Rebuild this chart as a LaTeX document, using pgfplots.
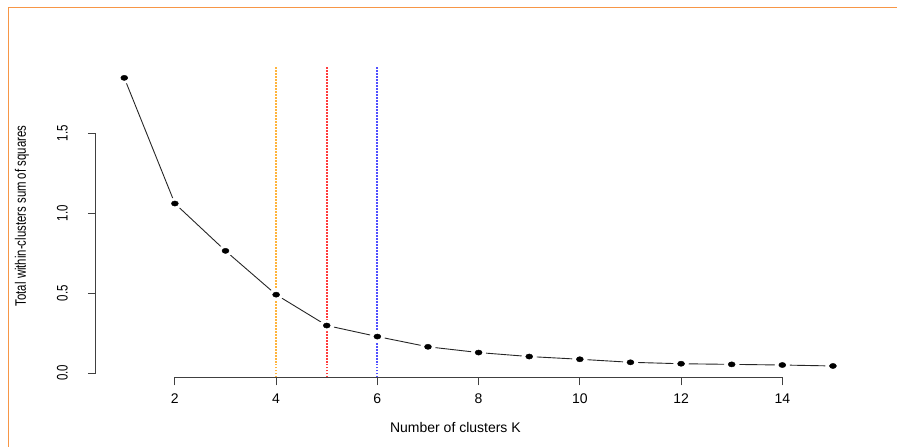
\documentclass[border=0pt]{standalone}
\usepackage{pgfplots}
\usepackage{pgfplotstable}
\pgfplotsset{compat=1.18}
\usepackage{fontspec}
\setmainfont{Liberation Sans}
\definecolor{frameorange}{RGB}{247,150,70}
\definecolor{rorange}{RGB}{255,180,60}
\definecolor{rred}{RGB}{255,60,60}
\definecolor{rblue}{RGB}{80,80,255}
\pgfplotstableread{
k wss
1 1.846
2 1.060
3 0.764
4 0.490
5 0.297
6 0.228
7 0.164
8 0.128
9 0.103
10 0.086
11 0.067
12 0.058
13 0.054
14 0.050
15 0.044
}\wss
\begin{document}
\begin{tikzpicture}[x=1pt,y=1pt]
\path (0,0) rectangle (898,447);
\draw[frameorange, line width=1.5pt] (8.5,0) -- (8.5,439.5) -- (898,439.5);
\begin{axis}[
  at={(96pt,69.2pt)}, anchor=south west,
  scale only axis, width=766pt, height=311.4pt,
  xmin=0.44, xmax=15.56, ymin=-0.028, ymax=1.918,
  axis line style={draw=none},
  axis x line*=bottom, axis y line*=left,
  xtick={2,4,...,14}, ytick={0,0.5,1,1.5},
  xticklabels={2,4,6,8,10,12,14},
  yticklabels={\scalebox{1}[1.33]{0.0},\scalebox{1}[1.33]{0.5},\scalebox{1}[1.33]{1.0},\scalebox{1}[1.33]{1.5}},
  tick align=outside, major tick length=8pt,
  tick style={black!75, line width=1pt},
  xticklabel style={font=\fontsize{14}{14}\selectfont, inner sep=0pt, anchor=north, yshift=-8pt},
  yticklabel style={font=\fontsize{11.5}{11.5}\selectfont, inner sep=0pt, rotate=90, anchor=south, yshift=20pt},
  clip=false,
  xlabel={Number of clusters K},
  ylabel={\scalebox{1}[1.33]{Total within-clusters sum of squares}},
  every axis x label/.style={at={(axis description cs:0.4697,-0.160)}, anchor=center, font=\fontsize{14}{14}\selectfont},
  every axis y label/.style={at={(axis description cs:-0.0966,0.519)}, anchor=center, rotate=90, font=\fontsize{11.4}{11.4}\selectfont},
]
\addplot[black!85, line width=0.9pt] table[x=k, y=wss] {\wss};
\addplot[white, only marks, mark=*, mark size=5.5pt, mark options={xscale=1.35, fill=white, draw=white}] table[x=k, y=wss] {\wss};
\addplot[black, only marks, mark=*, mark size=2.6pt, mark options={xscale=1.35, fill=black, draw=black}] table[x=k, y=wss] {\wss};
\addplot[draw=rorange, line width=1.8pt, dash pattern=on 1.6pt off 1.4pt] coordinates {(4,-0.028) (4,1.918)};
\addplot[draw=rred, line width=1.8pt, dash pattern=on 1.6pt off 1.4pt] coordinates {(5,-0.028) (5,1.918)};
\addplot[draw=rblue, line width=1.8pt, dash pattern=on 1.6pt off 1.4pt] coordinates {(6,-0.028) (6,1.918)};
\addplot[black!75, line width=1pt] coordinates {(2,-0.028) (14,-0.028)};
\addplot[black!75, line width=1pt] coordinates {(0.44,0) (0.44,1.5)};
\end{axis}
\end{tikzpicture}
\end{document}
